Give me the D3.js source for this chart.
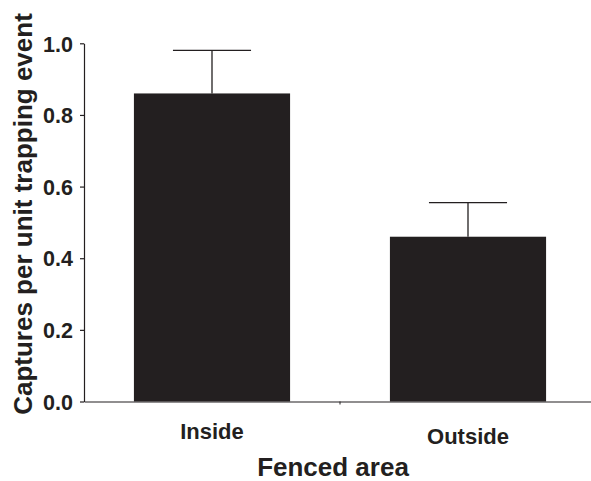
<!DOCTYPE html>
<html>
<head>
<script src="https://d3js.org/d3.v7.min.js"></script>
<style>
  body { margin: 0; background: #fff; }
  text { font-family: "Liberation Sans", Arial, sans-serif; font-weight: bold; fill: #231f20; }
</style>
</head>
<body>
<svg width="591" height="481"></svg>
<script>
// data
var categories = ["Inside", "Outside"];
var means = [0.86, 0.46];
var errors = [0.12, 0.095];
var yTicks = [0, 0.2, 0.4, 0.6, 0.8, 1.0];

var ink = "#231f20";
var svg = d3.select("svg");

var x = d3.scaleBand().domain(categories).range([84, 596]).padding(0);
var y = d3.scaleLinear().domain([0, 1]).range([401.5, 43.3]);
var barW = x.bandwidth() * 0.61;

// bars
svg.append("g").selectAll("rect")
  .data(categories).enter().append("rect")
  .attr("x", function(d) { return x(d) + (x.bandwidth() - barW) / 2; })
  .attr("y", function(d, i) { return y(means[i]); })
  .attr("width", barW)
  .attr("height", function(d, i) { return y(0) - y(means[i]); })
  .attr("fill", ink);

// error bars (upper only)
var eb = svg.append("g").attr("stroke", ink).attr("stroke-width", 1.3);
categories.forEach(function(d, i) {
  var cx = x(d) + x.bandwidth() / 2;
  eb.append("line")
    .attr("x1", cx).attr("x2", cx)
    .attr("y1", y(means[i])).attr("y2", y(means[i] + errors[i]));
  eb.append("line")
    .attr("x1", cx - barW / 4).attr("x2", cx + barW / 4)
    .attr("y1", y(means[i] + errors[i])).attr("y2", y(means[i] + errors[i]));
});

// y axis
var yAxis = svg.append("g")
  .attr("transform", "translate(84,0)")
  .call(d3.axisLeft(y).tickValues(yTicks).tickFormat(d3.format(".1f"))
        .tickSize(4).tickSizeOuter(0).tickPadding(7));
yAxis.selectAll("path, line").attr("stroke", ink).attr("stroke-width", 1.2);
yAxis.selectAll("text").style("font-size", "21.5px").attr("dy", "0.36em");

// x axis
var xAxis = svg.append("g")
  .attr("transform", "translate(0," + y(0) + ")")
  .call(d3.axisBottom(x).tickSize(0).tickSizeOuter(0).tickPadding(0));
xAxis.select("path").attr("stroke", ink).attr("stroke-width", 1.2);
xAxis.selectAll("text")
  .style("font-size", "22px")
  .attr("dy", null)
  .attr("y", function(d, i) { return i ? 42 : 37; });
// divider tick between the two groups
xAxis.append("line")
  .attr("x1", x("Outside")).attr("x2", x("Outside"))
  .attr("y1", 0).attr("y2", 3)
  .attr("stroke", ink);

// axis titles
svg.append("text")
  .attr("x", 333).attr("y", 476)
  .attr("text-anchor", "middle")
  .style("font-size", "26px")
  .text("Fenced area");

svg.append("text")
  .attr("transform", "translate(32,214) rotate(-90)")
  .attr("text-anchor", "middle")
  .style("font-size", "26px")
  .text("Captures per unit trapping event");
</script>
</body>
</html>
